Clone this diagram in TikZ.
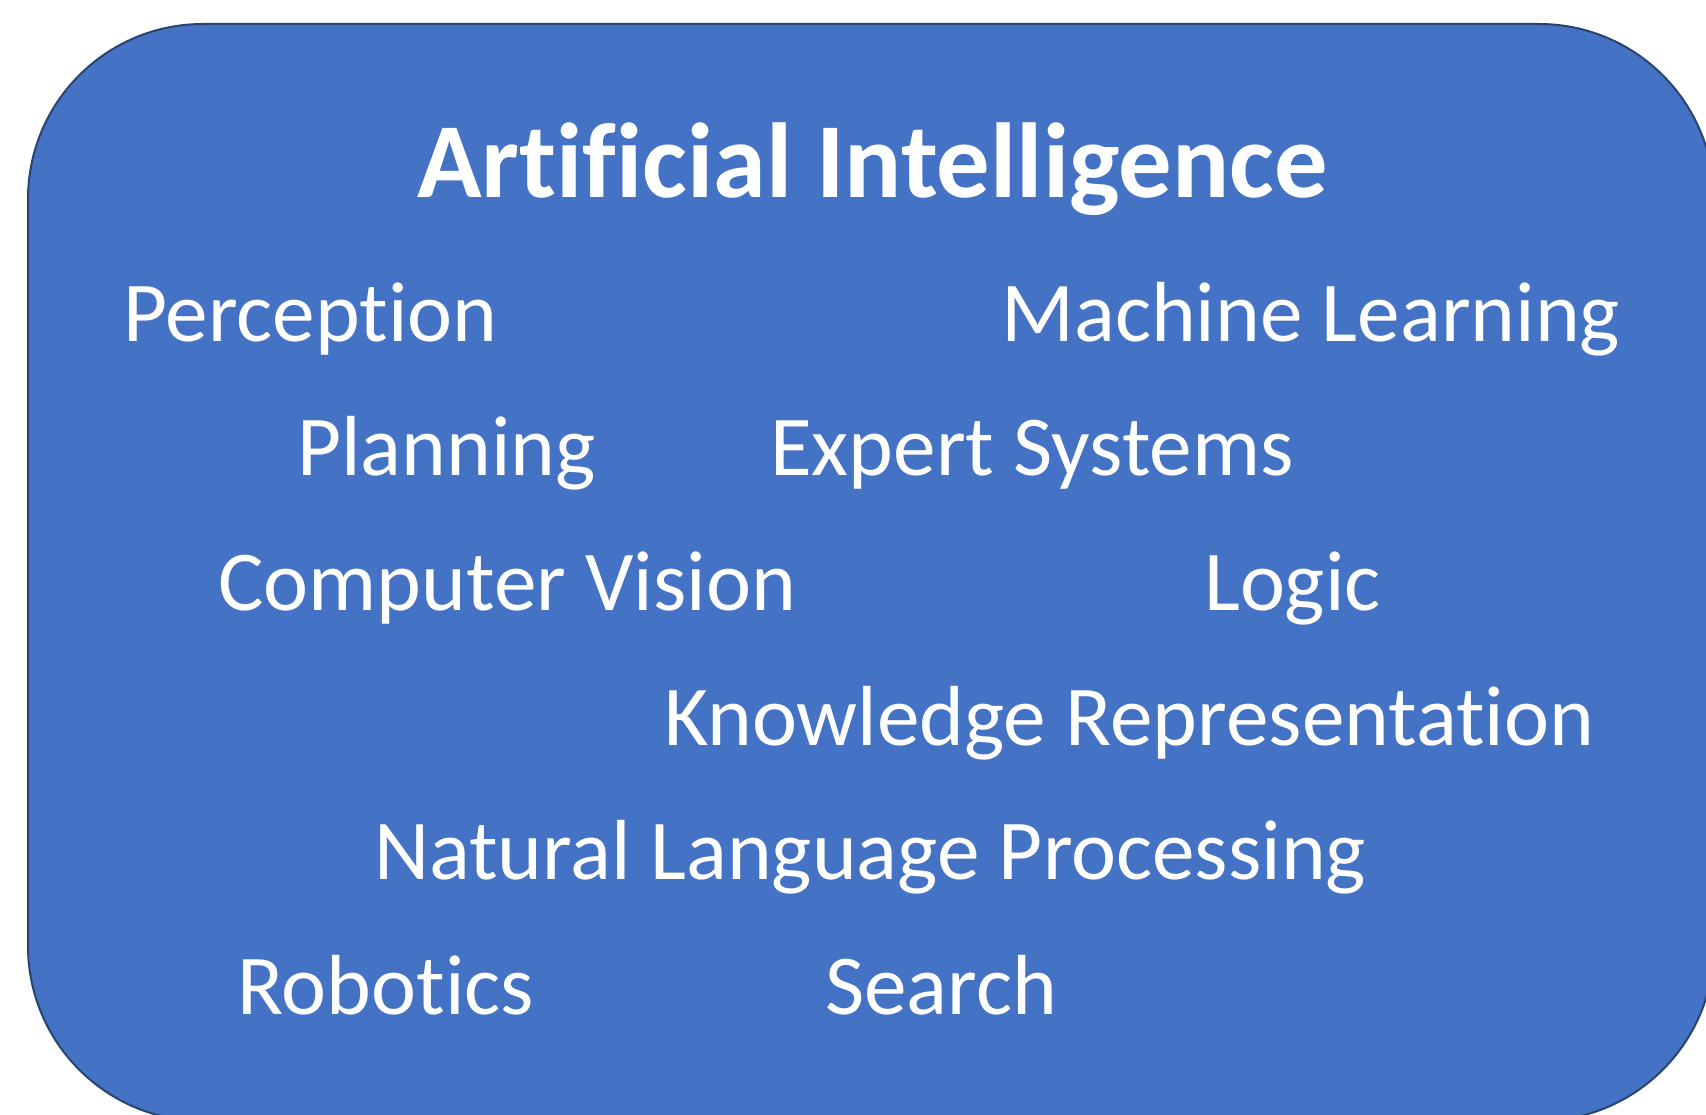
\documentclass[tikz,border=0pt]{standalone}
\usepackage{fontspec}
\setmainfont{Carlito}[Ligatures={NoCommon,NoRequired,NoContextual}]
\definecolor{panelfill}{HTML}{4472C4}
\definecolor{panelline}{HTML}{2A4470}
\begin{document}
\begin{tikzpicture}[x=1pt,y=-1pt,
  topic/.style={anchor=base west,inner sep=0pt,text=white,font=\fontsize{85.3}{95}\selectfont},
  heading/.style={anchor=base west,inner sep=0pt,text=white,font=\bfseries\fontsize{106.6}{116}\selectfont}]
  \useasboundingbox (0,0) rectangle (1706,1115);
  \begin{scope}
    \clip (0,0) rectangle (1706,1115);
    \draw[fill=panelfill,draw=panelline,line width=2pt,rounded corners=175pt]
      (28,24) rectangle (1714,1121);
  \end{scope}
  \node[heading] (title) at (417,198) {Artificial Intelligence};
  \node[topic] (perception) at (123,342) {Perception};
  \node[topic] (ml) at (1001,342) {Machine Learning};
  \node[topic] (planning) at (297,475) {Planning};
  \node[topic] (expert) at (770,475) {Expert Systems};
  \node[topic] (cv) at (218,610) {Computer Vision};
  \node[topic] (logic) at (1204,610) {Logic};
  \node[topic] (kr) at (664,745) {Knowledge Representation};
  \node[topic] (nlp) at (374,879) {Natural Language Processing};
  \node[topic] (robotics) at (237,1014) {Robotics};
  \node[topic] (search) at (825,1014) {Search};
\end{tikzpicture}
\end{document}
